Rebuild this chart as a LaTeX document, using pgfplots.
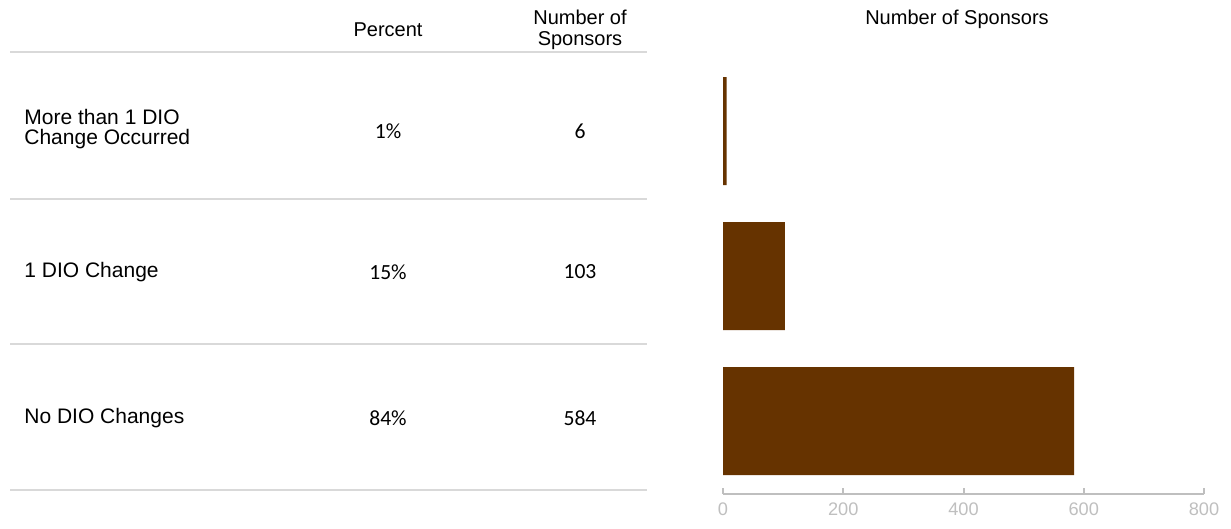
\documentclass[border=0pt]{standalone}
\usepackage{pgfplots}
\pgfplotsset{compat=1.18}
\usepackage{fontspec}
\setmainfont{Liberation Sans}
\newfontfamily\calib{Carlito}
\definecolor{barc}{RGB}{102,51,0}
\definecolor{gridc}{RGB}{217,217,217}
\definecolor{tickc}{RGB}{191,191,191}
\begin{document}
\begin{tikzpicture}
\begin{scope}[x=0.5pt,y=-0.5pt]
\path (0,0) rectangle (1231,529);
\foreach \yy in {52,199,344,490} {\draw[gridc,line width=1pt] (10,\yy) -- (647,\yy);}
\tikzset{hdr/.style={font=\fontsize{10}{10.5}\selectfont,inner sep=0pt},
         lab/.style={font=\fontsize{10.5}{10.2}\selectfont,inner sep=0pt},
         num/.style={font=\calib\fontsize{10.8}{12}\selectfont,inner sep=0pt}}
\node[hdr] at (388,30) {Percent};
\node[hdr,align=center] at (580,30) {Number of\\Sponsors};
\node[hdr] at (957,19) {Number of Sponsors};
\node[lab,anchor=west,align=left] at (24,129) {More than 1 DIO\\Change Occurred};
\node[lab,anchor=west] at (24,272) {1 DIO Change};
\node[lab,anchor=west] at (24,418) {No DIO Changes};
\node[num] at (388,131) {1\%};
\node[num] at (580,131) {6};
\node[num] at (388,272) {15\%};
\node[num] at (580,272) {103};
\node[num] at (388,418) {84\%};
\node[num] at (580,418) {584};
\end{scope}
\begin{axis}[
  at={(361.5pt,-246.75pt)}, anchor=south west,
  scale only axis, width=240.5pt, height=217.5pt,
  xmin=0, xmax=800, ymin=-0.5, ymax=2.5,
  xbar, bar width=54pt,
  axis y line=none, axis x line*=bottom,
  x axis line style={tickc,line width=1pt},
  xtick={0,200,400,600,800},
  tick align=inside, major tick length=3pt,
  tick style={tickc,line width=1pt},
  xticklabel style={font=\fontsize{9.1}{10}\selectfont,text=tickc,yshift=-1pt},
  /pgf/number format/assume math mode=true,
  clip=false,
]
\addplot[fill=barc,draw=none] coordinates {(584,0) (103,1) (6,2)};
\end{axis}
\end{tikzpicture}
\end{document}
